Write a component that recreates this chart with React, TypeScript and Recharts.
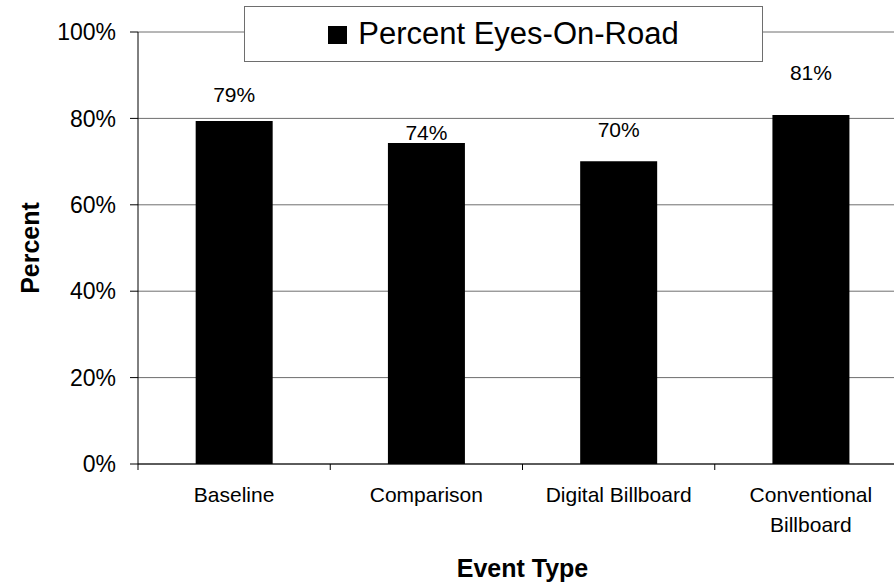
import { Bar, BarChart, CartesianGrid, LabelList, Legend, Text, XAxis, YAxis } from 'recharts';

const categories = ['Baseline', 'Comparison', 'Digital Billboard', 'Conventional Billboard'];
const eyesOnRoad = [79.4, 74.3, 70.1, 80.8];
const percentTicks = [0, 20, 40, 60, 80, 100];
// labels were hand-placed in the original, distance above bar top (px)
const labelLift = [26, 11, 32, 42];

const data = categories.map((name, i) => ({ name, value: eyesOnRoad[i] }));

const FONT = '"Liberation Sans", Arial, sans-serif';
const X_TICK_SIZE = 6;
const X_TICK_MARGIN = 17;

function CategoryTick(props: any) {
  const { x, y, payload } = props;
  const half = payload.offset ?? 0;
  const axisY = y - X_TICK_SIZE - X_TICK_MARGIN;
  return (
    <g>
      <line x1={x - half} x2={x - half} y1={axisY} y2={axisY + X_TICK_SIZE} stroke="#000" />
      <Text
        x={x}
        y={y}
        width={half * 2 - 50}
        textAnchor="middle"
        verticalAnchor="start"
        lineHeight={30}
        fontSize={21}
        fontFamily={FONT}
        fill="#000"
      >
        {payload.value}
      </Text>
    </g>
  );
}

function ValueLabel(props: any) {
  const { x, y, width, value, index } = props;
  return (
    <text
      x={x + width / 2}
      y={y - labelLift[index]}
      textAnchor="middle"
      dominantBaseline="central"
      fontSize={21}
      fontFamily={FONT}
      fill="#000"
    >
      {`${Math.round(value)}%`}
    </text>
  );
}

function LegendBox() {
  return (
    <div
      style={{
        boxSizing: 'border-box',
        width: 519,
        height: 56,
        border: '1px solid #6e6e6e',
        background: '#fff',
        display: 'flex',
        alignItems: 'center',
        justifyContent: 'center',
        fontFamily: FONT,
        fontSize: 31,
        color: '#000'
      }}
    >
      <span style={{ width: 19, height: 18, background: '#000', marginRight: 11, marginTop: 2 }} />
      <span>Percent Eyes-On-Road</span>
    </div>
  );
}

export default function App() {
  return (
    <div style={{ position: 'absolute', left: 0, top: 0, width: 894, height: 586, background: '#fff' }}>
      <BarChart
        width={894}
        height={586}
        data={data}
        margin={{ top: 32, right: -13, bottom: 2, left: 0 }}
        barCategoryGap="30%"
      >
        <CartesianGrid vertical={false} stroke="#6e6e6e" />
        <XAxis
          dataKey="name"
          height={120}
          tickSize={X_TICK_SIZE}
          tickMargin={X_TICK_MARGIN}
          tickLine={false}
          axisLine={{ stroke: '#000' }}
          interval={0}
          tick={<CategoryTick />}
          label={{
            value: 'Event Type',
            position: 'insideBottom',
            offset: 7,
            fontSize: 25,
            fontWeight: 'bold',
            fontFamily: FONT,
            fill: '#000'
          }}
        />
        <YAxis
          width={138}
          domain={[0, 100]}
          ticks={percentTicks}
          tickFormatter={(v) => `${v}%`}
          tickSize={8}
          tickMargin={14}
          tickLine={{ stroke: '#000' }}
          axisLine={{ stroke: '#000' }}
          tick={{ fontSize: 23, fontFamily: FONT, fill: '#000' }}
          label={{
            value: 'Percent',
            angle: -90,
            position: 'insideLeft',
            offset: 30,
            fontSize: 25,
            fontWeight: 'bold',
            fontFamily: FONT,
            fill: '#000',
            style: { textAnchor: 'middle' }
          }}
        />
        <Legend
          layout="vertical"
          align="center"
          verticalAlign="middle"
          content={<LegendBox />}
          wrapperStyle={{ top: 6, left: 244, width: 519, height: 56 }}
        />
        <Bar dataKey="value" fill="#000" isAnimationActive={false}>
          <LabelList dataKey="value" content={<ValueLabel />} />
        </Bar>
      </BarChart>
    </div>
  );
}
